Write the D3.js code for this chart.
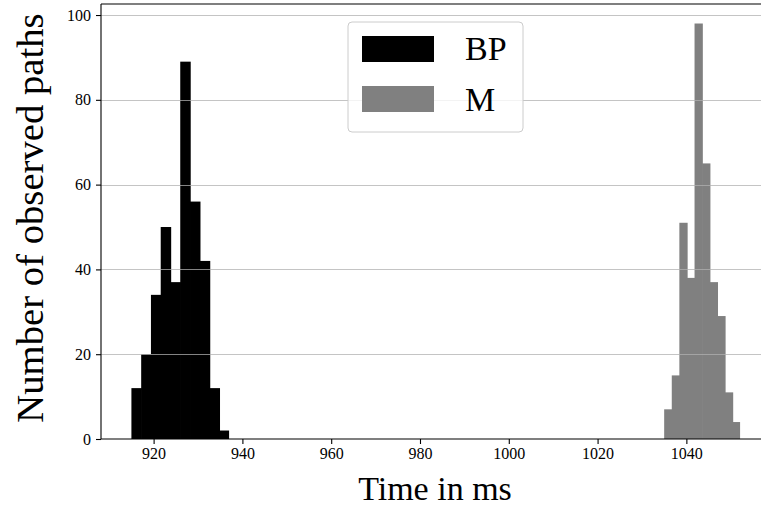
<!DOCTYPE html>
<html>
<head>
<meta charset="utf-8">
<script src="https://cdn.jsdelivr.net/npm/d3@7"></script>
<style>
  body { margin: 0; background: #fff; }
  text { font-family: "Liberation Serif", "DejaVu Serif", serif; fill: #000; }
</style>
</head>
<body>
<script>
// dimensiones de la imagen
var ancho = 761, alto = 511;

// bordes de las clases (ms) y conteos del histograma
var bpBordes = [915, 917.2, 919.4, 921.6, 923.8, 926, 928.2, 930.4, 932.6, 934.8, 937];
var bpConteos = [12, 20, 34, 50, 37, 89, 56, 42, 12, 2];
var mBordes = [1035, 1036.71, 1038.42, 1040.13, 1041.84, 1043.55, 1045.26, 1046.97, 1048.68, 1050.39, 1052.1];
var mConteos = [7, 15, 51, 38, 98, 65, 37, 29, 11, 4];

var series = ["BP", "M"];
var colores = ["#000000", "#808080"];
var ticksX = [920, 940, 960, 980, 1000, 1020, 1040];
var ticksY = [0, 20, 40, 60, 80, 100];

// area de los ejes
var izq = 101, der = 770.5, arriba = 4, abajo = 439;

var svg = d3.select("body")
  .append("svg")
  .attr("width", ancho)
  .attr("height", alto);

var escalaX = d3.scaleLinear().domain([908.15, 1058.95]).range([izq, der]);
var escalaY = d3.scaleLinear().domain([0, 102.6]).range([abajo, arriba]);

// convierte bordes + conteos en barras
function barras(bordes, conteos) {
  return conteos.map(function(c, i) {
    return { x0: bordes[i], x1: bordes[i + 1], n: c };
  });
}

var datos = [barras(bpBordes, bpConteos), barras(mBordes, mConteos)];

datos.forEach(function(serie, k) {
  svg.append("g").selectAll("rect")
    .data(serie)
    .enter()
    .append("rect")
    .attr("x", function(d) { return escalaX(d.x0); })
    // un poco de solapamiento para que no se vean rayas entre barras
    .attr("width", function(d, i) { return escalaX(d.x1) - escalaX(d.x0) + (i < serie.length - 1 ? 0.7 : 0); })
    .attr("y", function(d) { return escalaY(d.n); })
    .attr("height", function(d) { return escalaY(0) - escalaY(d.n); })
    .attr("fill", colores[k]);
});

// lineas de la grilla (encima de las barras)
svg.append("g").selectAll("line")
  .data(ticksY.slice(1))
  .enter()
  .append("line")
  .attr("x1", izq)
  .attr("x2", der)
  .attr("y1", function(d) { return Math.round(escalaY(d)) + 0.5; })
  .attr("y2", function(d) { return Math.round(escalaY(d)) + 0.5; })
  .attr("stroke", "#b0b0b0")
  .attr("stroke-opacity", 0.75)
  .attr("stroke-width", 1.1);

// ejes
var ejeX = svg.append("g")
  .attr("transform", "translate(0," + abajo + ")")
  .call(d3.axisBottom(escalaX).tickValues(ticksX).tickSize(5).tickPadding(4).tickFormat(d3.format("d")));

var ejeY = svg.append("g")
  .attr("transform", "translate(" + izq + ",0)")
  .call(d3.axisLeft(escalaY).tickValues(ticksY).tickSize(5).tickPadding(5).tickFormat(d3.format("d")));

[ejeX, ejeY].forEach(function(eje) {
  eje.select(".domain").remove();
  eje.selectAll("line").attr("stroke", "#000").attr("stroke-width", 1.1);
  eje.selectAll("text").style("font-family", "'Liberation Serif', serif").style("font-size", "16px");
});

// bordes del area (izquierda, abajo, arriba)
svg.append("line").attr("x1", izq).attr("x2", izq).attr("y1", arriba).attr("y2", abajo)
  .attr("stroke", "#000").attr("stroke-width", 1.1);
svg.append("line").attr("x1", izq).attr("x2", der).attr("y1", abajo).attr("y2", abajo)
  .attr("stroke", "#000").attr("stroke-width", 1.1);
svg.append("line").attr("x1", izq).attr("x2", der).attr("y1", arriba).attr("y2", arriba)
  .attr("stroke", "#000").attr("stroke-width", 1.1);

// titulos de los ejes
svg.append("text")
  .attr("x", 435)
  .attr("y", 500)
  .attr("text-anchor", "middle")
  .style("font-size", "34px")
  .text("Time in ms");

var tituloY = svg.append("text")
  .attr("transform", "translate(43,218) rotate(-90)")
  .attr("text-anchor", "middle")
  .style("font-size", "34px")
  .text("Number of observed paths");

// ajusta el tamaño para que ocupe lo mismo que en la imagen (~409 px)
var largo = tituloY.node().getComputedTextLength();
tituloY.style("font-size", (34 * 409 / largo).toFixed(1) + "px");

// leyenda
var leyenda = svg.append("g");
leyenda.append("rect")
  .attr("x", 348).attr("y", 22)
  .attr("width", 175).attr("height", 110)
  .attr("rx", 4)
  .attr("fill", "#fff").attr("fill-opacity", 0.8)
  .attr("stroke", "#cccccc").attr("stroke-width", 1);

series.forEach(function(s, i) {
  leyenda.append("rect")
    .attr("x", 362).attr("y", 36 + i * 50)
    .attr("width", 72).attr("height", 26)
    .attr("fill", colores[i]);
  leyenda.append("text")
    .attr("x", 465).attr("y", 60 + i * 51)
    .style("font-size", "34px")
    .text(s);
});
</script>
</body>
</html>
